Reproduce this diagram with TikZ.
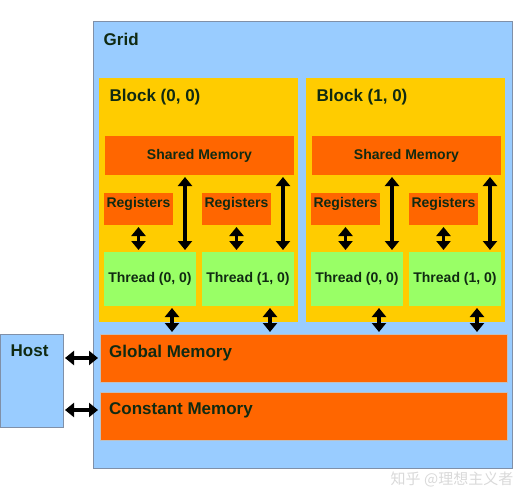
\documentclass[tikz,border=0pt]{standalone}
\usepackage{fontspec}
\setmainfont{Liberation Sans}
\newfontfamily\cjk{Noto Sans CJK SC}
\usetikzlibrary{arrows.meta}
\definecolor{gridblue}{HTML}{99CCFF}
\definecolor{blockyellow}{HTML}{FFCC00}
\definecolor{memorange}{HTML}{FF6600}
\definecolor{threadgreen}{HTML}{99FF66}
\definecolor{ink}{HTML}{102A12}
\definecolor{edgegray}{HTML}{8090A8}

\begin{document}
\begin{tikzpicture}[x=1pt, y=-1pt, >={Triangle[width=14pt,length=9pt]},
	box/.style={rectangle, inner sep=0pt, outer sep=0pt},
	title/.style={anchor=north west, inner sep=0pt, xshift=10.5pt, yshift=-10.5pt, text=ink, font=\fontsize{17}{20}\selectfont\bfseries},
	small/.style={text=ink, font=\fontsize{14}{16}\selectfont\bfseries},
	link/.style={<->, line width=3.2pt, shorten <=2pt, shorten >=2pt}]
	\useasboundingbox (0,0) rectangle (530,500);
	% Draw the grid, the host and the two device memories
	\node[box, fill=gridblue, draw=edgegray, line width=1pt, minimum width=419pt, minimum height=446pt, label={[title]north west:Grid}] (grid) at (302.5,245) {};
	\node[box, fill=gridblue, draw=edgegray, line width=1pt, minimum width=63pt, minimum height=93pt, label={[title]north west:Host}] (host) at (31.5,380.5) {};
	\node[box, fill=memorange, draw=black!25, minimum width=407pt, minimum height=48pt, label={[title, xshift=-1.5pt]north west:Global Memory}] (gm) at (303.5,358) {};
	\node[box, fill=memorange, draw=black!25, minimum width=407pt, minimum height=48pt, label={[title, xshift=-1.5pt]north west:Constant Memory}] (cm) at (303.5,416) {};
	
	% Draw the two blocks with their shared memory, registers and threads
	\foreach \b/\dx in {0/0, 1/207} {
		\node[box, fill=blockyellow, minimum width=199pt, minimum height=244pt, label={[title]north west:{Block (\b, 0)}}] (blk\b) at ({198.5+\dx},200) {};
		\node[box, small, fill=memorange, minimum width=189pt, minimum height=39pt] (sm\b) at ({199.5+\dx},155.5) {Shared Memory};
		\foreach \t/\tx in {0/0, 1/98} {
			% Registers and thread
			\node[box, fill=memorange, minimum width=69pt, minimum height=32pt, label={[small, inner sep=0pt, anchor=north, yshift=-4pt]north:Registers}] (reg\b\t) at ({138.5+\dx+\tx},209) {};
			\node[box, small, fill=threadgreen, minimum width=92pt, minimum height=54pt] (th\b\t) at ({150+\dx+\tx},279) {Thread (\t, 0)};
			% Links to registers, shared and global memory
			\coordinate (up\b\t) at ([xshift=-11pt]th\b\t.north east);
			\coordinate (dn\b\t) at ([xshift=-24pt]th\b\t.south east);
			\draw[link] (reg\b\t.south) -- (reg\b\t.south |- th\b\t.north);
			\draw[link] (up\b\t) -- (up\b\t |- sm\b.south);
			\draw[link] (dn\b\t) -- (dn\b\t |- gm.north);
		}
	}
	
	% Links between host and device memories
	\coordinate (cin) at ([yshift=6pt]cm.west);
	\draw[link] (host.east |- gm.west) -- (gm.west);
	\draw[link] (host.east |- cin) -- (cin);
	
	\node[text=black!15, font=\cjk\fontsize{15}{18}\selectfont] (mark) at (452,479) {知乎 @理想主义者};
\end{tikzpicture}
\end{document}
